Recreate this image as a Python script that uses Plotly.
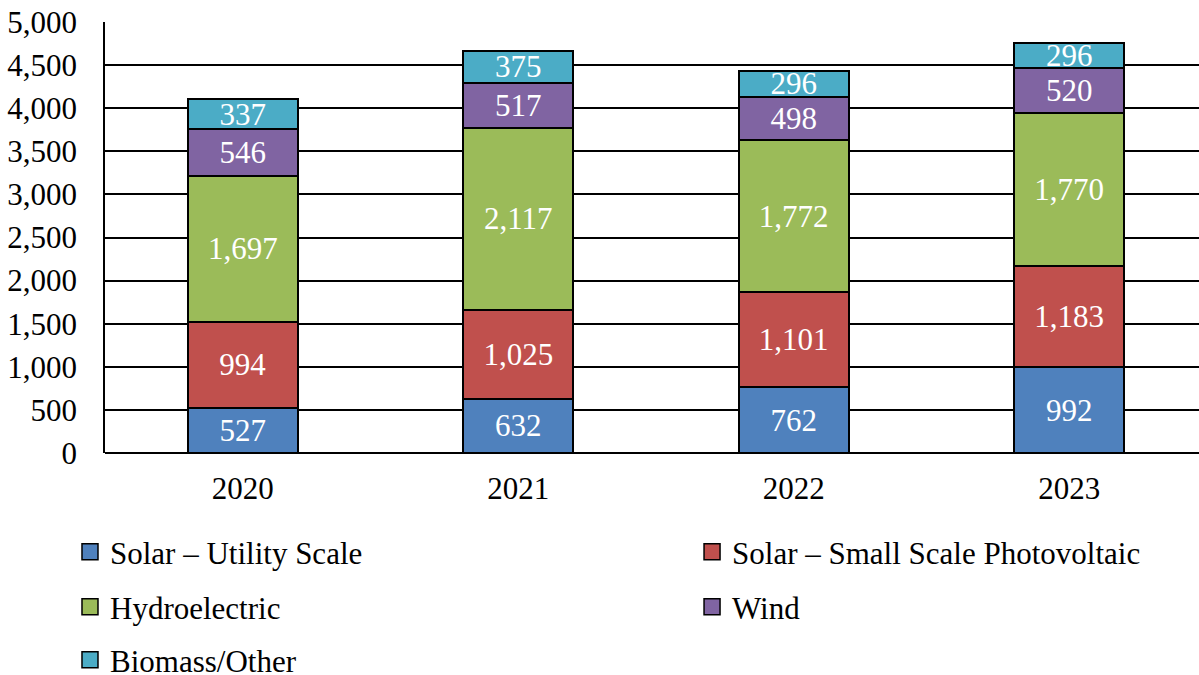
import plotly.graph_objects as go

years = ["2020", "2021", "2022", "2023"]
solar_utility = [527, 632, 762, 992]
solar_small = [994, 1025, 1101, 1183]
hydro = [1697, 2117, 1772, 1770]
wind = [546, 517, 498, 520]
biomass = [337, 375, 296, 296]

series_names = ["Solar – Utility Scale", "Solar – Small Scale Photovoltaic",
                "Hydroelectric", "Wind", "Biomass/Other"]
series_values = [solar_utility, solar_small, hydro, wind, biomass]
colors = ["#4F81BD", "#C0504D", "#9BBB59", "#8064A2", "#4BACC6"]

y_ticks = list(range(0, 5001, 500))

FONT = "Liberation Serif"
FS = 31

fig = go.Figure()
for name, vals, col in zip(series_names, series_values, colors):
    fig.add_trace(go.Bar(
        x=years, y=vals, name=name, width=0.4,
        marker=dict(color=col, line=dict(color="black", width=2)),
        texttemplate="%{y:,.0f}", textposition="inside",
        insidetextanchor="middle", textangle=0,
        insidetextfont=dict(color="white", size=FS, family=FONT),
        showlegend=False, hoverinfo="skip",
    ))

# one legend per entry, laid out in two columns below the plot
legend_ids = ["legend", "legend2", "legend3", "legend4", "legend5"]
legend_x = [-0.032, 0.5366, -0.032, 0.5366, -0.032]
legend_y = [-0.2297, -0.2297, -0.3573, -0.3573, -0.4803]

for name, col, lg in zip(series_names, colors, legend_ids):
    fig.add_trace(go.Scatter(
        x=[None], y=[None], mode="markers", name=name, legend=lg,
        marker=dict(symbol="square", size=16, color=col,
                    line=dict(color="black", width=1.5)),
        showlegend=True, hoverinfo="skip",
    ))

legend_layout = {}
for lg, lx, ly in zip(legend_ids, legend_x, legend_y):
    legend_layout[lg] = dict(
        orientation="h", x=lx, y=ly, xanchor="left", yanchor="middle",
        font=dict(family=FONT, size=FS, color="black"),
        bgcolor="rgba(0,0,0,0)",
    )

fig.update_layout(
    width=1199, height=675,
    margin=dict(l=105, r=0, t=22, b=222, autoexpand=False),
    paper_bgcolor="white", plot_bgcolor="white",
    barmode="stack",
    font=dict(family=FONT, size=FS, color="black"),
    uniformtext=dict(minsize=FS, mode="show"),
    xaxis=dict(
        type="category", range=[-0.5, 3.471],
        showgrid=False, ticks="", showline=False,
        tickfont=dict(family=FONT, size=FS, color="black"),
        ticklabelstandoff=14,
    ),
    yaxis=dict(
        range=[0, 5000], tickvals=y_ticks, tickformat=",",
        showgrid=True, gridcolor="black", gridwidth=1.5,
        zeroline=True, zerolinecolor="black", zerolinewidth=1.5,
        showline=True, linecolor="black", linewidth=1.5,
        ticks="", ticklabelstandoff=20,
        tickfont=dict(family=FONT, size=FS, color="black"),
    ),
    **legend_layout,
)

fig.write_html("out.html")
